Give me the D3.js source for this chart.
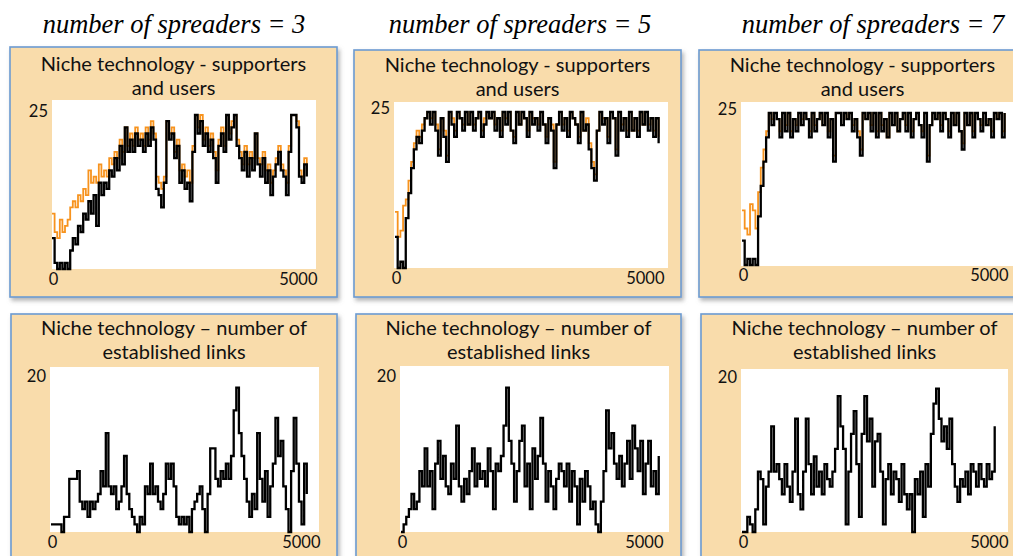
<!DOCTYPE html>
<html>
<head>
<meta charset="utf-8">
<script src="https://cdn.jsdelivr.net/npm/d3@7"></script>
<style>
  body { margin: 0; background: #fff; }
  svg { display: block; }
  .hdr { font-family: "Liberation Serif", "Times New Roman", serif; font-style: italic; font-size: 26.5px; fill: #000; }
  .ttl { font-family: Lato, "Open Sans", sans-serif; font-size: 20px; fill: #111; }
  .tick text { font-family: Lato, "Open Sans", sans-serif; font-size: 16.5px; fill: #111; }
</style>
</head>
<body>
<script>
// headers over the three columns
const spreaders = [3, 5, 7];

// time step of the simulation output
const step = 50;
const xTicks = [0, 5000];

// top row: supporters (orange) and users (black), max 25
const supporters3 = [9,6,5,8,6,7,8,10,11,10, 12,11,13,12,16,14,15,14,17,15, 16,15,18,17,19,18,21,19,23,20,
  22,20,23,21,22,20,23,21,24,22, 15,14,13,15,24,22,23,19,21,16, 17,15,16,14,20,25,23,25,21,23,
  20,22,19,16,21,23,20,25,22,24, 25,21,19,17,20,17,19,18,22,18, 17,19,16,17,14,16,18,20,17,16,
  14,20,25,25,24,16,15,18,16];
const users3 = [5,1,0,1,0,1,0,3,5,4, 7,6,9,8,11,9,12,7,14,12, 14,13,16,15,18,16,20,17,23,19,
  21,19,22,20,21,19,22,20,23,21, 13,12,10,14,24,21,22,18,20,14, 16,13,14,11,19,25,22,24,20,22,
  19,21,18,14,20,22,19,25,21,23, 25,20,18,16,19,15,18,16,22,17, 15,18,14,16,12,15,17,19,16,15,
  12,19,25,25,23,15,14,17,15];

const supporters5 = [9,5,6,10,11,14,17,20,22,21, 23,24,25,24,25,23,19,24,22,18, 25,24,22,25,24,23,25,23,25,23,
  24,25,22,24,25,24,25,23,24,22, 25,24,25,22,21,25,23,25,24,22, 25,24,24,23,25,23,21,24,23,17,
  23,25,23,24,22,25,24,23,21,25, 22,24,20,17,15,22,25,24,24,21, 25,24,19,25,23,24,22,25,22,24,
  22,25,23,25,23,24,22,24,21];
const users5 = [5,0,1,0,8,12,16,19,21,20, 22,24,25,23,25,22,18,24,21,17, 25,23,21,25,24,22,25,23,25,22,
  24,25,21,23,25,24,25,22,24,21, 25,23,25,22,20,25,23,25,24,21, 25,23,24,22,25,23,20,24,22,16,
  23,25,22,24,21,25,24,23,20,25, 22,23,19,16,14,22,25,23,24,20, 25,24,18,25,22,24,21,25,22,24,
  21,25,23,25,22,24,21,24,20];

const supporters7 = [9,6,5,10,9,6,12,16,19,22, 25,24,25,24,22,25,23,25,22,24, 23,25,24,25,24,22,25,23,24,25,
  23,25,22,24,18,25,25,23,25,24, 25,23,24,22,19,25,24,25,23,25, 22,25,23,24,21,25,23,25,22,24,
  25,23,25,22,24,25,23,22,25,18, 23,25,24,25,23,25,24,22,25,23, 25,22,20,25,23,25,22,25,24,23,
  25,23,24,22,25,24,25,22,25];
const users7 = [4,0,1,0,1,0,8,13,17,21, 25,23,25,24,21,25,22,25,21,24, 22,25,23,25,24,21,25,22,24,25,
  23,25,21,24,17,25,25,23,25,24, 25,22,24,21,18,25,24,25,22,25, 21,25,22,24,21,25,23,25,22,24,
  25,22,25,21,24,25,23,21,25,17, 23,25,24,25,22,25,24,21,25,23, 25,22,19,25,23,25,21,25,24,22,
  25,23,24,21,25,24,25,21,25];

// bottom row: number of established links, max 20
const links3 = [1,1,1,1,0,2,2,7,7,7, 8,4,3,4,2,4,3,4,5,8, 6,13,6,5,6,3,4,6,10,5,
  3,2,1,0,2,1,6,5,9,5, 6,4,3,5,9,7,9,6,2,1, 2,1,2,0,3,4,5,6,3,0,
  5,11,11,7,6,8,7,9,7,10, 16,19,13,10,7,4,2,5,3,13, 7,4,8,2,6,9,15,10,12,6,
  3,0,8,15,9,4,1,9,5];
const links5 = [0,1,2,3,5,3,4,8,6,11, 6,8,3,9,12,7,10,6,5,9, 7,14,6,4,7,5,8,11,6,9,
  7,8,6,11,8,3,9,8,10,14, 19,12,9,4,8,12,14,6,9,3, 11,7,10,15,9,4,8,6,3,7,
  9,8,6,9,4,8,6,1,7,4, 8,6,3,4,1,0,4,8,16,11, 13,9,7,10,6,9,12,7,14,11,
  8,12,5,9,12,6,8,5,10];
const links7 = [0,0,2,1,0,3,8,7,1,6, 8,14,8,9,7,5,9,6,4,8, 15,5,3,8,15,9,5,10,6,8,
  5,9,7,6,8,11,18,14,11,1, 8,13,16,9,2,13,18,12,15,6, 12,13,8,1,7,9,5,8,7,4,
  9,5,3,5,0,7,5,8,2,9, 6,13,17,19,15,12,14,11,15,9, 6,4,7,6,8,5,9,8,6,9,
  7,6,9,7,8,14];

const titleTop = ["Niche technology - supporters", "and users"];
const titleBottom = ["Niche technology \u2013 number of", "established links"];

const W = 1013, H = 556;
const svg = d3.select("body").append("svg").attr("width", W).attr("height", H);

const defs = svg.append("defs");
defs.append("filter").attr("id", "shadow")
  .attr("x", "-5%").attr("y", "-5%").attr("width", "115%").attr("height", "115%")
  .append("feDropShadow")
  .attr("dx", 2).attr("dy", 3).attr("stdDeviation", 2)
  .attr("flood-color", "#777").attr("flood-opacity", 0.55);

// column headers
const headerX = [174, 520, 873];
svg.selectAll("text.hdr").data(spreaders).join("text")
  .attr("class", "hdr")
  .attr("x", (d, i) => headerX[i]).attr("y", 33)
  .attr("text-anchor", "middle")
  .text(d => `number of spreaders = ${d}`);

// panel layout: box, white plot area and scale ranges
const panels = [
  { box: [10, 47, 327, 250], plot: [52, 100, 264, 169], xr: [52, 312], yr: [269, 115], yMax: 25, lab: 5, ty: 24,
    series: [{ v: supporters3, c: "#f7931e" }, { v: users3, c: "#000" }], title: titleTop },
  { box: [354, 50, 327, 247], plot: [394, 102, 274, 166], xr: [395, 664], yr: [268, 112], yMax: 25, lab: 0, ty: 22,
    series: [{ v: supporters5, c: "#f7931e" }, { v: users5, c: "#000" }], title: titleTop },
  { box: [699, 50, 327, 247], plot: [741, 102, 290, 164], xr: [742, 1010], yr: [265, 113], yMax: 25, lab: -2, ty: 22,
    series: [{ v: supporters7, c: "#f7931e" }, { v: users7, c: "#000" }], title: titleTop },
  { box: [11, 314, 326, 260], plot: [50, 367, 269, 165], xr: [51, 312], yr: [532, 380], yMax: 20, lab: 8, ty: 21,
    series: [{ v: links3, c: "#000" }], title: titleBottom },
  { box: [356, 314, 325, 260], plot: [400, 366, 269, 166], xr: [401, 664], yr: [532, 380], yMax: 20, lab: -1, ty: 21,
    series: [{ v: links5, c: "#000" }], title: titleBottom },
  { box: [701, 314, 327, 260], plot: [741, 369, 267, 163], xr: [742, 1008], yr: [532, 381], yMax: 20, lab: 0, ty: 21,
    series: [{ v: links7, c: "#000" }], title: titleBottom }
];

panels.forEach(p => {
  const g = svg.append("g");
  g.append("rect")
    .attr("x", p.box[0]).attr("y", p.box[1])
    .attr("width", p.box[2]).attr("height", p.box[3])
    .attr("fill", "#f9dcab").attr("stroke", "#6c9bd2").attr("stroke-width", 1.6)
    .attr("filter", "url(#shadow)");

  const cx = p.box[0] + p.box[2] / 2;
  g.selectAll("text.ttl").data(p.title).join("text")
    .attr("class", "ttl")
    .attr("x", cx).attr("y", (d, i) => p.box[1] + p.ty + i * 24)
    .attr("text-anchor", "middle")
    .text(d => d);

  g.append("rect")
    .attr("x", p.plot[0]).attr("y", p.plot[1])
    .attr("width", p.plot[2]).attr("height", p.plot[3])
    .attr("fill", "#fff");

  const x = d3.scaleLinear().domain([0, 5000]).range(p.xr);
  const y = d3.scaleLinear().domain([0, p.yMax]).range(p.yr);

  const line = d3.line()
    .x((d, i) => x(i * step))
    .y(d => y(d))
    .curve(d3.curveStepAfter);

  p.series.forEach(s => {
    g.append("path")
      .datum(s.v)
      .attr("fill", "none")
      .attr("stroke", s.c)
      .attr("stroke-width", s.c === "#000" ? 2.3 : 1.8)
      .attr("d", line);
  });

  // x axis: only min and max labels
  const xa = g.append("g")
    .attr("transform", `translate(0,${p.yr[0] + 4})`)
    .call(d3.axisBottom(x).tickValues(xTicks).tickSize(0).tickPadding(0).tickFormat(d3.format("d")));
  xa.select(".domain").remove();
  xa.selectAll(".tick text")
    .attr("text-anchor", d => d === 0 ? "middle" : "end")
    .attr("x", d => d === 0 ? 1 : p.lab)
    .attr("dy", "0.71em");

  // y axis: max label only
  const ya = g.append("g")
    .attr("transform", `translate(${p.plot[0] - 4},0)`)
    .call(d3.axisLeft(y).tickValues([p.yMax]).tickSize(0).tickPadding(0));
  ya.select(".domain").remove();
  ya.selectAll(".tick text").attr("dy", "0.1em");
});
</script>
</body>
</html>
